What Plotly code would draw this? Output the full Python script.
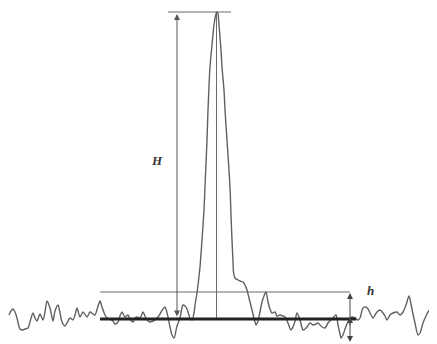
import plotly.graph_objects as go

# Signal trace (time, detector response; vertical axis in picture units, downward)
signal_x = [9, 11, 13, 15, 17, 20, 23, 25, 28, 30, 33, 35, 37, 40, 43, 45, 47, 50, 53, 55, 58, 60, 62, 65, 67, 70,
            73, 75, 77, 80, 83, 87, 90, 93, 95, 98, 100, 102, 105, 107, 110, 113, 115, 118, 120, 122, 125, 128, 130,
            133, 135, 137, 140, 143, 145, 147, 150, 153, 155, 158, 160, 163, 165, 168, 170, 172, 174, 177, 180, 183,
            185, 187, 190, 192, 194, 195, 197, 198, 200, 202, 204, 205, 207, 208, 210, 212, 214, 216, 217, 218, 219,
            221, 222, 224, 225, 227, 228, 230, 231, 232, 233, 233.5, 235, 238, 240, 243, 245, 247, 249, 251, 253, 255,
            256, 258, 260, 262, 264, 266, 268, 270, 272, 275, 277, 280, 283, 285, 288, 291, 293, 295, 297, 300, 303,
            305, 307, 310, 313, 316, 318, 322, 325, 328, 331, 333, 336, 338, 340, 341, 343, 345, 347, 350, 352, 355,
            358, 360, 363, 366, 368, 370, 373, 375, 377, 380, 383, 385, 387, 390, 393, 397, 400, 403, 406, 409, 411,
            413, 415, 418, 420, 423, 426, 428, 432, 434, 436]
signal_y = [315, 311, 309, 312, 318, 329, 330, 329, 328, 322, 313, 318, 321, 314, 320, 312, 301, 308, 321, 311, 305,
            313, 322, 326, 323, 318, 320, 315, 308, 317, 312, 317, 312, 314, 315, 306, 301, 307, 315, 318, 319, 321,
            324, 322, 316, 312, 317, 315, 319, 322, 318, 317, 318, 312, 316, 320, 322, 321, 320, 317, 314, 309, 307,
            317, 327, 335, 338, 326, 318, 305, 306, 309, 318, 320, 313, 305, 293, 285, 267, 240, 210, 187, 140, 110,
            67, 45, 25, 14, 12, 14, 25, 50, 67, 90, 110, 140, 155, 187, 215, 240, 262, 272, 278, 280, 281, 282, 285,
            290, 298, 306, 314, 322, 325, 321, 312, 302, 296, 292, 302, 309, 313, 312, 316, 315, 316, 317, 323, 330,
            327, 321, 313, 320, 330, 329, 327, 323, 325, 324, 323, 327, 328, 323, 320, 318, 315, 325, 334, 338, 335,
            329, 324, 319, 317, 318, 320, 318, 308, 307, 309, 313, 318, 315, 312, 310, 313, 316, 320, 315, 313, 312,
            315, 312, 305, 296, 304, 314, 323, 335, 333, 323, 316, 312, 308, 311, 314]

# Reference levels
baseline_level = 319
noise_top_level = 292
peak_top_level = 12
peak_time = 216.5
H_arrow_x = 177
h_arrow_x = 350

fig = go.Figure()

line_grey = "#6a6a6a"

# thin reference lines
fig.add_trace(go.Scatter(x=[168, 231], y=[peak_top_level, peak_top_level], mode="lines",
                         line=dict(color=line_grey, width=1), hoverinfo="skip"))
fig.add_trace(go.Scatter(x=[100, 350], y=[noise_top_level, noise_top_level], mode="lines",
                         line=dict(color=line_grey, width=1), hoverinfo="skip"))
fig.add_trace(go.Scatter(x=[peak_time, peak_time], y=[peak_top_level, baseline_level], mode="lines",
                         line=dict(color=line_grey, width=1), hoverinfo="skip"))

# signal
fig.add_trace(go.Scatter(x=signal_x, y=signal_y, mode="lines",
                         line=dict(color="#606060", width=1.4, shape="spline", smoothing=0.8),
                         hoverinfo="skip"))

# thick baseline
fig.add_trace(go.Scatter(x=[100, 356], y=[baseline_level, baseline_level], mode="lines",
                         line=dict(color="#222222", width=2.8), hoverinfo="skip"))

# H arrow (double headed)
fig.add_annotation(x=H_arrow_x, y=14, ax=H_arrow_x, ay=baseline_level - 1, xref="x", yref="y",
                   axref="x", ayref="y", showarrow=True, arrowhead=2, startarrowhead=2,
                   arrowside="end+start", arrowsize=1.2, startarrowsize=1.2, arrowwidth=1,
                   arrowcolor="#555555", text="")
# h arrows
fig.add_annotation(x=h_arrow_x, y=noise_top_level + 1, ax=h_arrow_x, ay=baseline_level, xref="x", yref="y",
                   axref="x", ayref="y", showarrow=True, arrowhead=2, arrowsize=1.2, arrowwidth=1,
                   arrowcolor="#444444", text="")
fig.add_annotation(x=h_arrow_x, y=baseline_level - 2, ax=h_arrow_x, ay=baseline_level + 8, xref="x", yref="y",
                   axref="x", ayref="y", showarrow=True, arrowhead=2, arrowsize=1.2, arrowwidth=1,
                   arrowcolor="#444444", text="")
fig.add_annotation(x=h_arrow_x, y=342, ax=h_arrow_x, ay=baseline_level, xref="x", yref="y",
                   axref="x", ayref="y", showarrow=True, arrowhead=2, arrowsize=1.2, arrowwidth=1,
                   arrowcolor="#444444", text="")

# labels
fig.add_annotation(x=157, y=160, xref="x", yref="y", text="<b><i>H</i></b>", showarrow=False,
                   font=dict(family="Liberation Serif", size=13, color="#333333"))
fig.add_annotation(x=370, y=290, xref="x", yref="y", text="<b><i>h</i></b>", showarrow=False,
                   font=dict(family="Liberation Serif", size=13, color="#333333"))

# The page body has an 8px margin, so the figure is sized and ranged to line up with the window.
fig.update_layout(
    width=429, height=336,
    margin=dict(l=0, r=0, t=0, b=0),
    paper_bgcolor="white", plot_bgcolor="white",
    showlegend=False,
    xaxis=dict(range=[8, 437], visible=False, fixedrange=True),
    yaxis=dict(range=[344, 8], visible=False, fixedrange=True),
)

fig.write_html("out.html")
